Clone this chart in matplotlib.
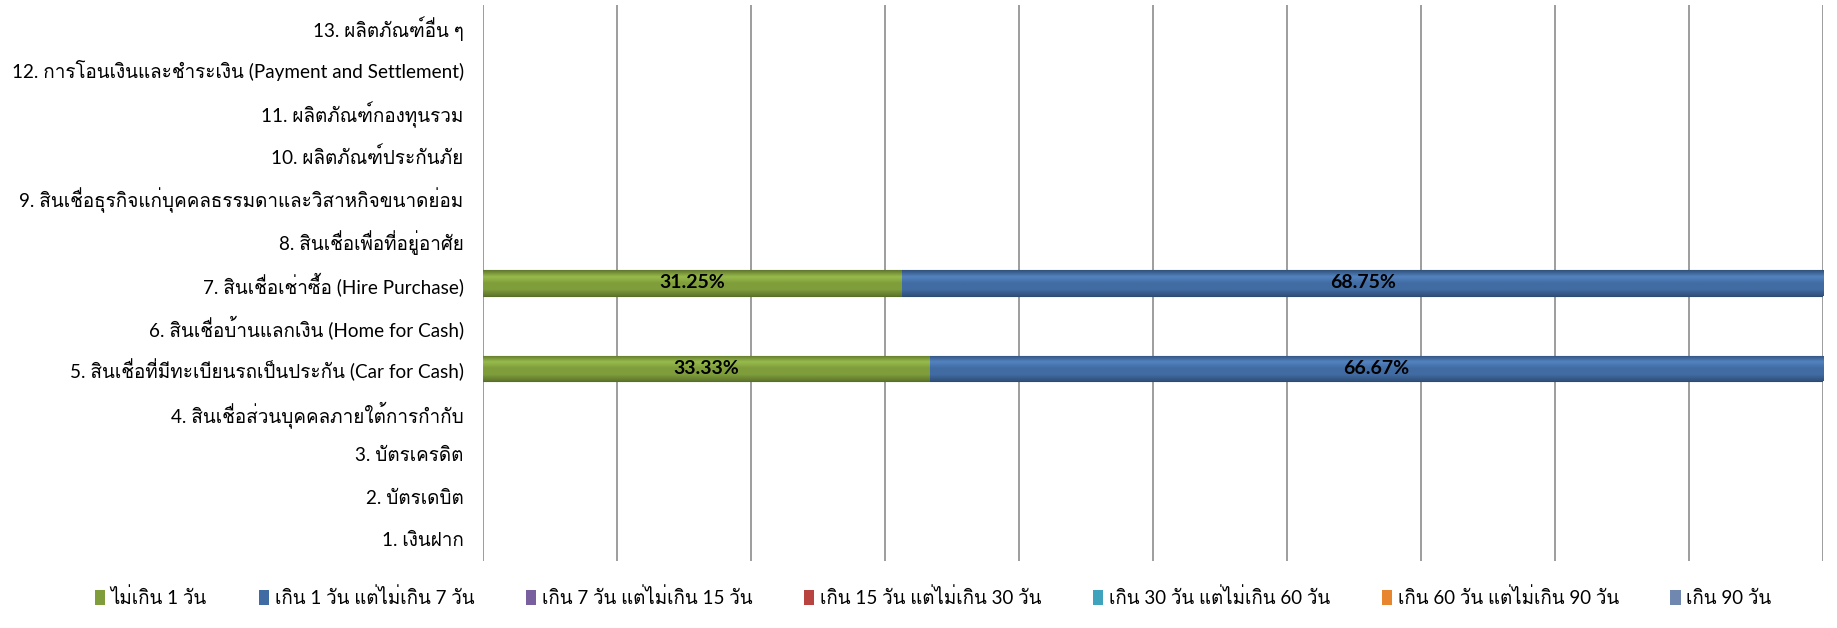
import matplotlib
matplotlib.use("Agg")
import matplotlib.pyplot as plt
import numpy as np
from matplotlib.colors import LinearSegmentedColormap, to_rgb

# data (percent share by delay bucket), bottom to top
categories = [
    "1. เงินฝาก",
    "2. บัตรเดบิต",
    "3. บัตรเครดิต",
    "4. สินเชื่อส่วนบุคคลภายใต้การกำกับ",
    "5. สินเชื่อที่มีทะเบียนรถเป็นประกัน (Car for Cash)",
    "6. สินเชื่อบ้านแลกเงิน (Home for Cash)",
    "7. สินเชื่อเช่าซื้อ (Hire Purchase)",
    "8. สินเชื่อเพื่อที่อยู่อาศัย",
    "9. สินเชื่อธุรกิจแก่บุคคลธรรมดาและวิสาหกิจขนาดย่อม",
    "10. ผลิตภัณฑ์ประกันภัย",
    "11. ผลิตภัณฑ์กองทุนรวม",
    "12. การโอนเงินและชำระเงิน (Payment and Settlement)",
    "13. ผลิตภัณฑ์อื่น ๆ",
]
series_names = [
    "ไม่เกิน 1 วัน",
    "เกิน 1 วัน แต่ไม่เกิน 7 วัน",
    "เกิน 7 วัน แต่ไม่เกิน 15 วัน",
    "เกิน 15 วัน แต่ไม่เกิน 30 วัน",
    "เกิน 30 วัน แต่ไม่เกิน 60 วัน",
    "เกิน 60 วัน แต่ไม่เกิน 90 วัน",
    "เกิน 90 วัน",
]
within_1d = [0, 0, 0, 0, 33.33, 0, 31.25, 0, 0, 0, 0, 0, 0]
d1_to_7 = [0, 0, 0, 0, 66.67, 0, 68.75, 0, 0, 0, 0, 0, 0]
d7_to_15 = [0] * 13
d15_to_30 = [0] * 13
d30_to_60 = [0] * 13
d60_to_90 = [0] * 13
over_90 = [0] * 13
series = [within_1d, d1_to_7, d7_to_15, d15_to_30, d30_to_60, d60_to_90, over_90]

colors = ["#7f9e3b", "#416ca3", "#7a5f9e", "#b8433f", "#3fa3bd", "#e8862f", "#7088b0"]

# Loma has Thai tone marks pre-positioned, so they survive without shaping
FONT = ["Lato", "Loma", "Noto Sans Thai Looped", "DejaVu Sans"]
plt.rcParams["font.family"] = FONT

fig = plt.figure(figsize=(18.37, 6.28), dpi=100)
ax = fig.add_axes([0.263, 0.107, 0.7295, 0.885])

y = np.arange(len(categories))
left = np.zeros(len(categories))
handles = []


def shade(c):
    r, g, b = to_rgb(c)
    light = tuple(min(1, v * 1.12 + 0.04) for v in (r, g, b))
    dark = tuple(v * 0.75 for v in (r, g, b))
    # bottom -> top
    return LinearSegmentedColormap.from_list("s", [dark, (r, g, b), (r, g, b), light, dark])


for vals, name, col in zip(series, series_names, colors):
    vals = np.array(vals, dtype=float)
    edge = tuple(v * 0.7 for v in to_rgb(col))
    bars = ax.barh(y, vals, left=left, height=0.6, color=col,
                   edgecolor=[edge if v > 0 else "none" for v in vals],
                   linewidth=0.8, label=name, zorder=3)
    handles.append(bars)
    cmap = shade(col)
    for b, v in zip(bars, vals):
        if v <= 0:
            continue
        x0, y0 = b.get_x(), b.get_y()
        w, h = b.get_width(), b.get_height()
        grad = np.linspace(0, 1, 64).reshape(-1, 1)
        im = ax.imshow(grad, cmap=cmap, aspect="auto", extent=(x0, x0 + w, y0, y0 + h),
                       origin="lower", zorder=3.5, interpolation="bilinear")
        im.set_clip_path(b)
        ax.text(x0 + w / 2, y0 + h / 2, f"{v:.2f}%", ha="center", va="center",
                fontsize=14, fontweight="bold", color="black", zorder=5)
    left += vals

ax.set_xlim(0, 100)
ax.set_ylim(-0.5, len(categories) - 0.5)
ax.set_xticks(np.arange(0, 101, 10))
ax.set_xticklabels([])
ax.set_yticks(y)
ax.set_yticklabels(categories, fontsize=13.6)
ax.tick_params(axis="both", length=0)
ax.tick_params(axis="y", pad=14)
ax.grid(axis="x", color="#8c8c8c", linewidth=1.2, zorder=0)
for s in ax.spines.values():
    s.set_visible(False)

fig.legend(handles=handles, labels=series_names, loc="center", bbox_to_anchor=(0.508, 0.049),
           ncol=7, frameon=False, fontsize=13.5, handlelength=0.55, handleheight=0.8,
           handletextpad=0.3, columnspacing=2.75)

fig.savefig("out.png", dpi=100)
